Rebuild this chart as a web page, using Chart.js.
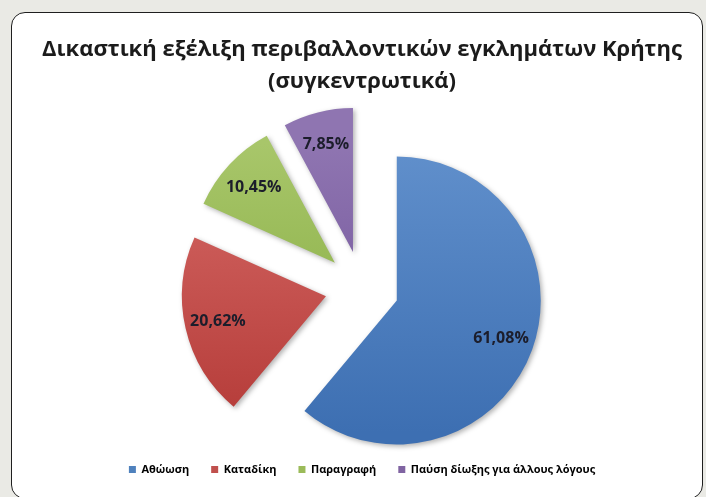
<!DOCTYPE html>
<html lang="el">
<head>
<meta charset="utf-8">
<title>Δικαστική εξέλιξη περιβαλλοντικών εγκλημάτων Κρήτης</title>
<script src="https://cdn.jsdelivr.net/npm/chart.js@4.4.1/dist/chart.umd.min.js"></script>
<style>
  html, body { margin: 0; padding: 0; }
  body { width: 706px; height: 497px; overflow: hidden; background: #eaeae5; position: relative; }
  .card { position: absolute; left: 11px; top: 12px; width: 690px; height: 485px; background: #fff; border: 1.5px solid #1f1f1f; border-radius: 14px; }
  #chart { position: absolute; left: 0; top: 0; }
</style>
</head>
<body>
<div class="card"></div>
<canvas id="chart" width="706" height="497"></canvas>
<script>
// categories and their share of the outcomes (%)
const categories = ['Αθώωση', 'Καταδίκη', 'Παραγραφή', 'Παύση δίωξης για άλλους λόγους'];
const shares = [61.08, 20.62, 10.45, 7.85];

const titleLines = ['Δικαστική εξέλιξη περιβαλλοντικών εγκλημάτων Κρήτης', '(συγκεντρωτικά)'];

// flat colours for the legend, light/dark ends for the slice shading
const legendColors = ['#4f81bd', '#c0504d', '#9bbb59', '#8064a2'];
const lightColors = ['#6190cc', '#d66a67', '#a8c66a', '#8f75b1'];
const darkColors = ['#3d6fb2', '#b43a37', '#80a83a', '#6a4c94'];

const FONT = 'Open Sans';
const PIE_RADIUS = 144;
const EXPLODE = 37;   // how far each slice is pulled out from the centre

function fmtPct(v) {
  return v.toFixed(2).replace('.', ',') + '%';
}

// vertical gradient, lighter on top
function sliceFill(ctx) {
  const { chart, dataIndex } = ctx;
  const area = chart.chartArea;
  if (!area) return legendColors[dataIndex];
  const cy = (area.top + area.bottom) / 2;
  const g = chart.ctx.createLinearGradient(0, cy - PIE_RADIUS, 0, cy + PIE_RADIUS);
  g.addColorStop(0, lightColors[dataIndex]);
  g.addColorStop(1, darkColors[dataIndex]);
  return g;
}

// move every slice outwards along its middle angle
const explodeSlices = {
  id: 'explodeSlices',
  afterDatasetsUpdate(chart) {
    chart.getDatasetMeta(0).data.forEach(arc => {
      const mid = (arc.startAngle + arc.endAngle) / 2;
      arc.x += Math.cos(mid) * EXPLODE;
      arc.y += Math.sin(mid) * EXPLODE;
    });
  }
};

// soft shadow under the slices + percentage labels on top
const sliceLabels = {
  id: 'sliceLabels',
  beforeDatasetsDraw(chart) {
    const c = chart.ctx;
    c.save();
    c.shadowColor = 'rgba(0,0,0,0.30)';
    c.shadowBlur = 5;
    c.shadowOffsetX = 2;
    c.shadowOffsetY = 2;
  },
  afterDatasetsDraw(chart) {
    const c = chart.ctx;
    c.restore();
    c.save();
    c.font = `bold 16px "${FONT}"`;
    c.fillStyle = '#1c1d2b';
    c.textAlign = 'center';
    c.textBaseline = 'middle';
    chart.getDatasetMeta(0).data.forEach((arc, i) => {
      const mid = (arc.startAngle + arc.endAngle) / 2;
      const r = arc.outerRadius * 0.77;
      c.fillText(fmtPct(shares[i]), arc.x + Math.cos(mid) * r, arc.y + Math.sin(mid) * r);
    });
    c.restore();
  }
};

new Chart(document.getElementById('chart'), {
  type: 'pie',
  data: {
    labels: categories,
    datasets: [{
      data: shares,
      backgroundColor: sliceFill,
      borderWidth: 0,
      clip: false
    }]
  },
  options: {
    responsive: false,
    animation: false,
    radius: PIE_RADIUS,
    layout: { padding: { left: 18, bottom: 12 } },
    plugins: {
      title: {
        display: true,
        text: titleLines,
        color: '#1b1b1b',
        font: { family: FONT, size: 22, weight: 'bold', lineHeight: 1.45 },
        padding: { top: 34, bottom: 36 }
      },
      legend: {
        position: 'bottom',
        labels: {
          boxWidth: 7,
          boxHeight: 7,
          padding: 22,
          color: '#1e1e1e',
          font: { family: FONT, size: 11, weight: 'bold' },
          generateLabels: () => categories.map((text, i) => ({
            text,
            fillStyle: legendColors[i],
            strokeStyle: legendColors[i],
            lineWidth: 0,
            hidden: false,
            index: i
          }))
        }
      },
      tooltip: { enabled: false }
    }
  },
  plugins: [explodeSlices, sliceLabels]
});
</script>
</body>
</html>
